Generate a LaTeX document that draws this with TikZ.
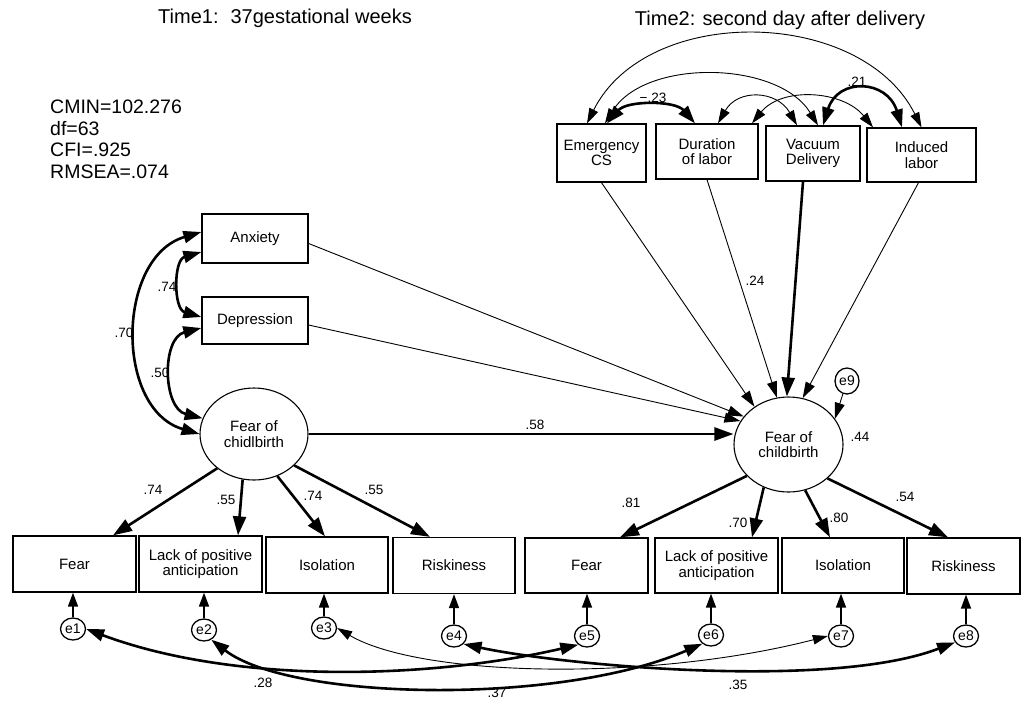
\documentclass[tikz,border=0pt]{standalone}
\usepackage{fontspec}
\setmainfont{Liberation Sans}
\usetikzlibrary{arrows.meta,shapes.geometric,calc}
\tikzset{
  obs/.style={draw, line width=1.3pt, rectangle, align=center, inner sep=0pt, font=\fontsize{15}{15.5}\selectfont},
  lat/.style={draw, ellipse, line width=1.1pt, align=center, inner sep=0pt, font=\fontsize{15}{15.5}\selectfont},
  err/.style={draw, ellipse, line width=1.3pt, inner sep=0pt, minimum width=25pt, minimum height=22pt, font=\fontsize{14}{14}\selectfont},
  coef/.style={font=\fontsize{13.5}{13.5}\selectfont, inner sep=0pt},
  ttl/.style={font=\fontsize{20}{20}\selectfont, inner sep=0pt},
  thinarr/.style={line width=0.9pt, -{Triangle[length=16pt 0,width=10pt 0]}},
  thickarr/.style={line width=2.6pt, -{Triangle[length=19pt 0,width=13pt 0]}},
  midarr/.style={line width=1.6pt, -{Triangle[length=14pt 0,width=10pt 0]}},
  thincov/.style={line width=0.9pt, {Triangle[length=15pt 0,width=9.5pt 0]}-{Triangle[length=15pt 0,width=9.5pt 0]}},
  thickcov/.style={line width=2.6pt, {Triangle[length=18pt 0,width=12pt 0]}-{Triangle[length=18pt 0,width=12pt 0]}},
}
\begin{document}
\begin{tikzpicture}[x=1pt,y=-1pt]
\useasboundingbox (0,0) rectangle (1022,702);
\fill[white] (0,0) rectangle (1022,702);

% titles and fit
\node[ttl] (t1) at (285,18) {Time1:\hspace{12pt}37gestational weeks};
\node[ttl] (t2) at (780,20) {Time2: second day after delivery};
\node[font=\fontsize{19.5}{21.5}\selectfont, align=left, anchor=north west, inner sep=0pt] (fit) at (50,100) {CMIN=102.276\\df=63\\CFI=.925\\RMSEA=.074};

% Time 1
\node[obs, minimum width=106pt, minimum height=49pt] (anx) at (255,238.5) {Anxiety};
\node[obs, minimum width=106pt, minimum height=47pt] (dep) at (255,320.5) {Depression};
\node[lat, minimum width=108pt, minimum height=92pt] (f1) at (254,434) {Fear of\\chidlbirth};

\node[obs, minimum width=123pt, minimum height=56pt] (b1) at (74.5,564) {Fear};
\node[obs, minimum width=123pt, minimum height=56pt] (b2) at (200.5,564) {Lack of positive\\anticipation};
\node[obs, minimum width=122pt, minimum height=56pt] (b3) at (327,565) {Isolation};
\node[obs, minimum width=122pt, minimum height=56pt] (b4) at (454,565.5) {Riskiness};

% Time 2
\node[obs, minimum width=123pt, minimum height=55pt] (b5) at (586.5,565.5) {Fear};
\node[obs, minimum width=123pt, minimum height=55pt] (b6) at (716.5,565.5) {Lack of positive\\anticipation};
\node[obs, minimum width=122pt, minimum height=55pt] (b7) at (843,565.5) {Isolation};
\node[obs, minimum width=113pt, minimum height=56pt] (b8) at (963.5,566) {Riskiness};

\node[lat, minimum width=109pt, minimum height=95pt] (f2) at (788.5,444.5) {Fear of\\childbirth};
\node[err, minimum width=24pt, minimum height=26pt] (e9) at (847,381) {e9};

\node[obs, minimum width=89pt, minimum height=58pt] (ecs) at (601.5,153) {Emergency\\CS};
\node[obs, minimum width=102pt, minimum height=55pt] (dur) at (707,151.5) {Duration\\of labor};
\node[obs, minimum width=94pt, minimum height=55pt] (vac) at (813,153.5) {Vacuum\\Delivery};
\node[obs, minimum width=109pt, minimum height=54pt] (ind) at (921.5,155) {Induced\\labor};

% errors
\node[err] (e1) at (73,629) {e1};
\node[err] (e2) at (204,630) {e2};
\node[err] (e3) at (324,628) {e3};
\node[err] (e4) at (454,636) {e4};
\node[err] (e5) at (587,636) {e5};
\node[err] (e6) at (711,635) {e6};
\node[err] (e7) at (841,636) {e7};
\node[err] (e8) at (966,636) {e8};

% regression paths
\draw[thinarr] ($(anx.east)+(0,5)$) -- (f2.148);
\draw[thinarr] ($(dep.east)+(0,4.5)$) -- (f2.154);
\draw[thickarr] (f1.east) -- (f1.east -| f2.west);
\draw[thinarr] (ecs.south) -- (f2.132);
\draw[thinarr] (dur.south) -- (f2.104);
\draw[thickarr] ($(vac.south)+(-10,0)$) -- (f2.92);
\draw[thinarr] ($(ind.south)+(-3,0)$) -- (f2.73);
\draw[thinarr] (e9) -- (f2.29);

\draw[thickarr] (f1.223) -- ($(b1.north)+(38.5,0)$);
\draw[thickarr] (f1.256) -- ($(b2.north)+(37.5,0)$);
\draw[thickarr] (f1.299) -- ($(b3.north)+(-2,0)$);
\draw[thickarr] (f1.322) -- ($(b4.north)+(-24,0)$);

\draw[thickarr] (f2.217) -- ($(b5.north)+(33.5,0)$);
\draw[thickarr] (f2.240) -- ($(b6.north)+(35.5,0)$);
\draw[thickarr] (f2.290) -- ($(b7.north)+(-13,0)$);
\draw[thickarr] (f2.319) -- ($(b8.north)+(-15.5,0)$);

\foreach \e/\b in {e1/b1,e2/b2,e3/b3,e4/b4,e5/b5,e6/b6,e7/b7,e8/b8}
  \draw[midarr] (\e) -- (\e |- \b.south);

% covariances left
\draw[thickcov] ($(anx.west)+(0,13.5)$) .. controls +(-28,8) and +(-28,-8) .. ($(dep.west)+(0,-3.5)$);
\draw[thickcov] ($(dep.west)+(0,7.5)$) .. controls +(-40,10) and +(-40,-10) .. (f1.163);
\draw[thickcov] ($(anx.west)+(0,-6.5)$) .. controls +(-85,25) and +(-85,-25) .. (f1.west);

% covariances top
\draw[thincov] ($(ecs.north)+(-14.5,0)$) .. controls +(60,-120) and +(-60,-120) .. (ind.north);
\draw[thincov] ($(ecs.north)+(3.5,0)$) .. controls +(40,-65) and +(-40,-65) .. ($(vac.north)+(5,0)$);
\draw[thickcov] ($(ecs.north)+(5.5,0)$) .. controls +(20,-23) and +(-20,-23) .. ($(dur.north)+(-12,0)$);
\draw[thincov] ($(dur.north)+(11,0)$) .. controls +(20,-35) and +(-20,-35) .. ($(vac.north)+(-16,0)$);
\draw[thincov] ($(dur.north)+(45,0)$) .. controls +(30,-37) and +(-30,-37) .. ($(ind.north)+(-48.5,0)$);
\draw[thickcov] ($(vac.north)+(10,0)$) .. controls +(15,-48) and +(-15,-48) .. ($(ind.north)+(-19.5,0)$);

% covariances bottom
\draw[thickcov] (e1.east) .. controls +(150,56) and +(-147,34) .. (e5.225);
\draw[thickcov] (e2.307) .. controls +(79,61) and +(-143,62) .. (e6.225);
\draw[thincov] (e3.east) .. controls +(83.5,49) and +(-178.5,46) .. (e7.west);
\draw[thickcov] (e4.320) .. controls +(97,21) and +(-125.5,48) .. (e8.210);

% coefficient labels
\node[coef] (c74a) at (167,287) {.74};
\node[coef] (c50) at (160,373) {.50};
\node[coef] (c70) at (124,333) {.70};
\node[coef] (c74b) at (153,490) {.74};
\node[coef] (c55a) at (226,500) {.55};
\node[coef] (c74c) at (313,496) {.74};
\node[coef] (c55b) at (374,490) {.55};
\node[coef] (c58) at (535,425) {.58};
\node[coef] (c81) at (631,503) {.81};
\node[coef] (c70b) at (738,523) {.70};
\node[coef] (c80) at (839,518) {.80};
\node[coef] (c54) at (905,497) {.54};
\node[coef] (c24) at (755,281) {.24};
\node[coef] (c44) at (860,437) {.44};
\node[coef] (c23) at (653,98) {−.23};
\node[coef] (c21) at (857,82) {.21};
\node[coef] (c28) at (263,683) {.28};
\node[coef] (c37) at (497,693) {.37};
\node[coef] (c35) at (738,685) {.35};
\end{tikzpicture}
\end{document}
